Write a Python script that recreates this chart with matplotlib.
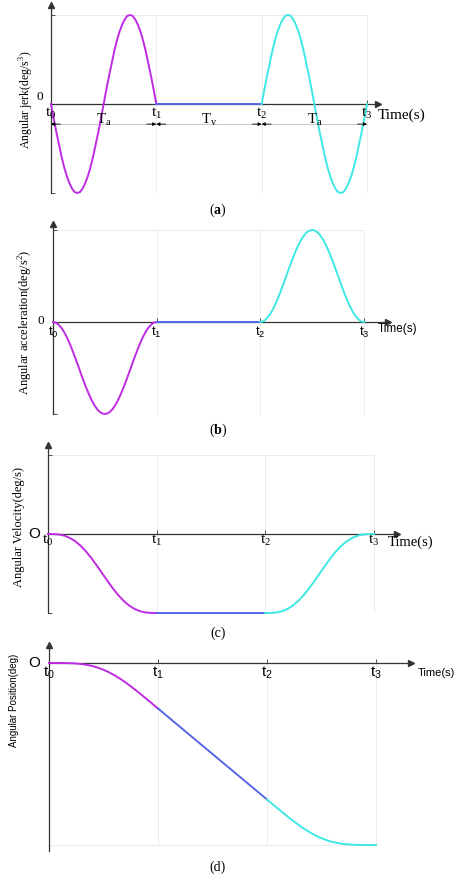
import matplotlib
matplotlib.use('Agg')
import matplotlib.pyplot as plt

# fonts
SERIF = 'Liberation Serif'
SANS = 'Liberation Sans'
plt.rcParams['mathtext.fontset'] = 'custom'
plt.rcParams['mathtext.rm'] = SERIF
plt.rcParams['mathtext.sf'] = SANS
plt.rcParams['mathtext.bf'] = SERIF + ':bold'

MAGENTA = '#BE2BE2'
BLUE = '#5865E6'
CYAN = '#3EE8E4'
AXIS = '#333333'
GRID = '#e8e8e8'

# data (normalised: t0=0, t1=1, t2=2, t3=3, amplitudes read as +-1)
phase = [0.00, 0.05, 0.10, 0.15, 0.20, 0.25, 0.30, 0.35, 0.40, 0.45, 0.50,
         0.55, 0.60, 0.65, 0.70, 0.75, 0.80, 0.85, 0.90, 0.95, 1.00]
phase_fine = [0.000, 0.025, 0.050, 0.075, 0.100, 0.125, 0.150, 0.175, 0.200, 0.225,
              0.250, 0.275, 0.300, 0.325, 0.350, 0.375, 0.400, 0.425, 0.450, 0.475,
              0.500, 0.525, 0.550, 0.575, 0.600, 0.625, 0.650, 0.675, 0.700, 0.725,
              0.750, 0.775, 0.800, 0.825, 0.850, 0.875, 0.900, 0.925, 0.950, 0.975, 1.000]
cruise_t = [1.0, 2.0]

jerk_acc = [0, -0.16, -0.31, -0.45, -0.59, -0.71, -0.81, -0.89, -0.95, -0.99,
            -1.00, -0.99, -0.95, -0.89, -0.81, -0.71, -0.59, -0.45, -0.31, -0.16,
            0, 0.16, 0.31, 0.45, 0.59, 0.71, 0.81, 0.89, 0.95, 0.99,
            1.00, 0.99, 0.95, 0.89, 0.81, 0.71, 0.59, 0.45, 0.31, 0.16, 0]
jerk_cruise = [0, 0]
jerk_dec = [0, 0.16, 0.31, 0.45, 0.59, 0.71, 0.81, 0.89, 0.95, 0.99,
            1.00, 0.99, 0.95, 0.89, 0.81, 0.71, 0.59, 0.45, 0.31, 0.16,
            0, -0.16, -0.31, -0.45, -0.59, -0.71, -0.81, -0.89, -0.95, -0.99,
            -1.00, -0.99, -0.95, -0.89, -0.81, -0.71, -0.59, -0.45, -0.31, -0.16, 0]

acc_acc = [0, -0.006, -0.025, -0.055, -0.095, -0.146, -0.206, -0.273, -0.345, -0.422,
           -0.500, -0.578, -0.655, -0.727, -0.794, -0.854, -0.905, -0.946, -0.976, -0.994,
           -1.000, -0.994, -0.976, -0.946, -0.905, -0.854, -0.794, -0.727, -0.655, -0.578,
           -0.500, -0.422, -0.345, -0.273, -0.206, -0.146, -0.095, -0.055, -0.025, -0.006, 0]
acc_cruise = [0, 0]
acc_dec = [0, 0.006, 0.025, 0.055, 0.095, 0.146, 0.206, 0.273, 0.345, 0.422,
           0.500, 0.578, 0.655, 0.727, 0.794, 0.854, 0.905, 0.946, 0.976, 0.994,
           1.000, 0.994, 0.976, 0.946, 0.905, 0.854, 0.794, 0.727, 0.655, 0.578,
           0.500, 0.422, 0.345, 0.273, 0.206, 0.146, 0.095, 0.055, 0.025, 0.006, 0]

vel_acc = [0, -0.001, -0.006, -0.021, -0.049, -0.091, -0.149, -0.221, -0.306, -0.401, -0.5,
           -0.599, -0.694, -0.779, -0.851, -0.909, -0.951, -0.979, -0.994, -0.999, -1.0]
vel_cruise = [-1.0, -1.0]
vel_dec = [-1.0, -0.999, -0.994, -0.979, -0.951, -0.909, -0.851, -0.779, -0.694, -0.599, -0.5,
           -0.401, -0.306, -0.221, -0.149, -0.091, -0.049, -0.021, -0.006, -0.001, 0]

pos_acc = [0, 0, -0.0001, -0.0004, -0.0012, -0.003, -0.0059, -0.0105, -0.0171, -0.0259, -0.0372,
           -0.0509, -0.0671, -0.0855, -0.1059, -0.128, -0.1512, -0.1754, -0.2001, -0.225, -0.25]
pos_cruise = [-0.25, -0.75]
pos_dec = [-0.75, -0.775, -0.7999, -0.8246, -0.8488, -0.872, -0.8941, -0.9145, -0.9329, -0.9491, -0.9628,
           -0.9741, -0.9829, -0.9895, -0.9941, -0.997, -0.9988, -0.9996, -0.9999, -1.0, -1.0]

time_labels = ['0', '1', '2', '3']
period_labels = [r'$\mathrm{T_a}$', r'$\mathrm{T_v}$', r'$\mathrm{T_a}$']

W, H = 474, 880
fig = plt.figure(figsize=(W / 100, H / 100), dpi=100)
fig.patch.set_facecolor('white')


def make_axes(x0, x3, xend, yzero, yneg, ytop, ybot=None):
    # pixel geometry of one panel -> axes with matching limits
    if ybot is None:
        ybot = yneg
    unit_y = yneg - yzero
    xmax = 3 * (xend - x0) / (x3 - x0)
    ymax = (yzero - ytop) / unit_y
    ymin = -(ybot - yzero) / unit_y
    ax = fig.add_axes([x0 / W, 1 - ybot / H, (xend - x0) / W, (ybot - ytop) / H])
    ax.set_xlim(0, xmax)
    ax.set_ylim(ymin, ymax)
    for s in ['top', 'right']:
        ax.spines[s].set_visible(False)
    ax.spines['bottom'].set_position(('data', 0))
    for s in ['left', 'bottom']:
        ax.spines[s].set_color(AXIS)
        ax.spines[s].set_linewidth(0.9)
    ax.plot(1, 0, '>', color=AXIS, ms=4, transform=ax.get_yaxis_transform(), clip_on=False)
    ax.plot(0, 1, '^', color=AXIS, ms=4, transform=ax.get_xaxis_transform(), clip_on=False)
    ax.set_xticks([1, 2, 3])
    ax.tick_params(direction='in', length=3, width=0.6, color=AXIS,
                   labelleft=False, labelbottom=False)
    ax.set_facecolor('none')
    return ax


def draw_curves(ax, t, acc, cruise, dec):
    ax.plot(t, acc, color=MAGENTA, lw=1.4, clip_on=False, zorder=3)
    ax.plot(cruise_t, cruise, color=BLUE, lw=1.4, clip_on=False, zorder=3)
    ax.plot([2 + p for p in t], dec, color=CYAN, lw=1.4, clip_on=False, zorder=3)


def time_ticks(ax, dy, family, size, style):
    for i, lab in enumerate(time_labels):
        ax.annotate(r'$\math%s{t_%s}$' % (style, lab), xy=(i, 0), xytext=(0, dy),
                    textcoords='offset points', ha='center', va='center',
                    family=family, fontsize=size)


# (a) jerk
ax = make_axes(51, 367, 378, 104, 193, 5)
ax.vlines([1, 2, 3], -1, 1, color=GRID, lw=0.6, zorder=0)
ax.hlines([1, -1], 0, 3, color=GRID, lw=0.6, zorder=0)
ax.set_yticks([1, -1])
draw_curves(ax, phase_fine, jerk_acc, jerk_cruise, jerk_dec)
dim_y = -0.226
ax.hlines(dim_y, 0, 3, color='#c8c8c8', lw=0.7)
for i in range(3):
    ax.annotate('', xy=(i, dim_y), xytext=(i + 0.09, dim_y),
                arrowprops=dict(arrowstyle='-|>', color='black', lw=0.6,
                                mutation_scale=5, shrinkA=0, shrinkB=0))
    ax.annotate('', xy=(i + 1, dim_y), xytext=(i + 0.91, dim_y),
                arrowprops=dict(arrowstyle='-|>', color='black', lw=0.6,
                                mutation_scale=5, shrinkA=0, shrinkB=0))
    ax.annotate(period_labels[i], xy=(i + 0.5, dim_y), xytext=(0, 3),
                textcoords='offset points', ha='center', va='center',
                family=SERIF, fontsize=10.5)
ax.annotate('0', xy=(0, 0), xytext=(-8, 5), textcoords='offset points',
            ha='center', va='center', family=SERIF, fontsize=9.5)
time_ticks(ax, -6.5, SERIF, 11, 'rm')
ax.annotate('Time(s)', xy=(ax.get_xlim()[1], 0), xytext=(0, -8), textcoords='offset points',
            ha='left', va='center', family=SERIF, fontsize=11)
fig.text(27 / W, 1 - 100 / H, r'Angular jerk(deg/s$^{3}$)', rotation=90,
         ha='center', va='center', family=SERIF, fontsize=8.5)
fig.text(218 / W, 1 - 210 / H, r'($\mathbf{a}$)', ha='center', va='center',
         family=SERIF, fontsize=10)

# (b) acceleration
ax = make_axes(53, 364, 388, 322, 414, 224)
ax.vlines([1, 2, 3], -1, 1, color=GRID, lw=0.6, zorder=0)
ax.hlines([1, -1], 0, 3, color=GRID, lw=0.6, zorder=0)
ax.set_yticks([1, -1])
draw_curves(ax, phase_fine, acc_acc, acc_cruise, acc_dec)
ax.annotate('0', xy=(0, 0), xytext=(-8.5, 1), textcoords='offset points',
            ha='center', va='center', family=SERIF, fontsize=9.5)
time_ticks(ax, -7.5, SANS, 9.5, 'sf')
ax.annotate('Time(s)', xy=(3, 0), xytext=(10, -5), textcoords='offset points',
            ha='left', va='center', family=SANS, fontsize=8.5)
fig.text(26 / W, 1 - 322 / H, r'Angular acceleration(deg/s$^{2}$)', rotation=90,
         ha='center', va='center', family=SERIF, fontsize=9)
fig.text(218 / W, 1 - 430 / H, r'($\mathbf{b}$)', ha='center', va='center',
         family=SERIF, fontsize=10)

# (c) velocity
ax = make_axes(48, 374, 397, 534, 613, 445)
ax.vlines([1, 2, 3], -1, 1, color=GRID, lw=0.6, zorder=0)
ax.hlines([1, -1], 0, 3, color=GRID, lw=0.6, zorder=0)
ax.set_yticks([1, -1])
draw_curves(ax, phase, vel_acc, vel_cruise, vel_dec)
ax.annotate('O', xy=(0, 0), xytext=(-10, 0), textcoords='offset points',
            ha='center', va='center', family=SANS, fontsize=11)
time_ticks(ax, -5, SERIF, 11, 'rm')
ax.annotate('Time(s)', xy=(3, 0), xytext=(10, -6), textcoords='offset points',
            ha='left', va='center', family=SERIF, fontsize=10.5)
fig.text(19 / W, 1 - 527 / H, 'Angular Velocity(deg/s)', rotation=90,
         ha='center', va='center', family=SERIF, fontsize=9)
fig.text(218 / W, 1 - 633 / H, '(c)', ha='center', va='center',
         family=SERIF, fontsize=10)

# (d) position
ax = make_axes(49, 376, 411, 663, 845, 645, ybot=851)
ax.vlines([1, 2, 3], -1, 0, color=GRID, lw=0.6, zorder=0)
ax.hlines([-1], 0, 3, color=GRID, lw=0.6, zorder=0)
ax.set_yticks([])
draw_curves(ax, phase, pos_acc, pos_cruise, pos_dec)
ax.annotate('O', xy=(0, 0), xytext=(-11, 0), textcoords='offset points',
            ha='center', va='center', family=SANS, fontsize=11)
time_ticks(ax, -7, SANS, 11, 'sf')
ax.annotate('Time(s)', xy=(ax.get_xlim()[1], 0), xytext=(5, -7), textcoords='offset points',
            ha='left', va='center', family=SANS, fontsize=8)
fig.text(14 / W, 1 - 700 / H, 'Angular Position(deg)', rotation=90,
         ha='center', va='center', family=SANS, fontsize=7)
fig.text(218 / W, 1 - 867 / H, '(d)', ha='center', va='center',
         family=SERIF, fontsize=10)

fig.savefig('out.png', dpi=100, facecolor='white')
